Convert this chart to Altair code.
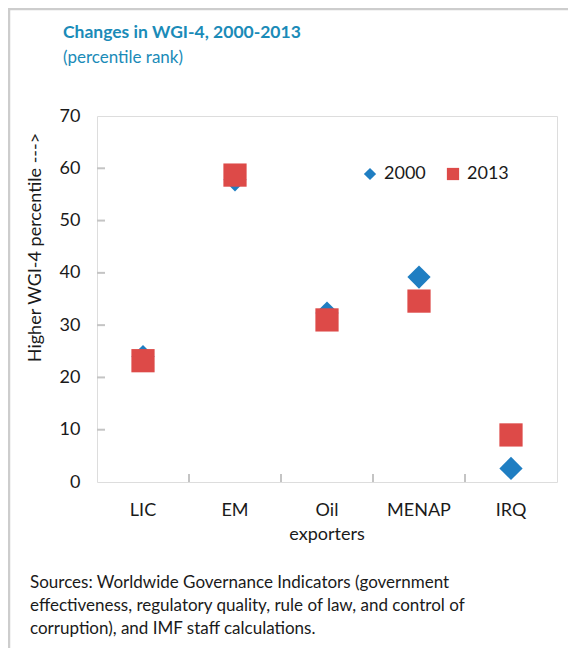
import altair as alt
import pandas as pd

categories = ["LIC", "EM", "Oil exporters", "MENAP", "IRQ"]
values_2000 = [24.0, 57.8, 32.3, 39.2, 2.6]
values_2013 = [23.2, 58.7, 31.0, 34.6, 9.0]
series_names = ["2000", "2013"]
y_ticks = [0, 10, 20, 30, 40, 50, 60, 70]
inner_y_ticks = [10, 20, 30, 40, 50, 60]
title_text = "Changes in WGI-4, 2000-2013"
subtitle_text = "(percentile rank)"
source_lines = [
    "Sources: Worldwide Governance Indicators (government",
    "effectiveness, regulatory quality, rule of law, and control of",
    "corruption), and IMF staff calculations.",
]

FONT = "Lato"
BLUE = "#1f7ec2"
RED = "#dd4a48"
TEAL = "#1a8bb8"
GRAY = "#c4c4c4"
TXT = "#1a1a1a"
FS = 18

rows = []
for c, v in zip(categories, values_2000):
    rows.append({"cat": c, "series": "2000", "value": v})
for c, v in zip(categories, values_2013):
    rows.append({"cat": c, "series": "2013", "value": v})
df = pd.DataFrame(rows)

xscale = alt.Scale(type="band", domain=categories, paddingInner=0, paddingOuter=0)
yscale = alt.Scale(domain=[0, 70], nice=False, zero=True)

points = alt.Chart(df).mark_point(filled=True, opacity=1, size=540).encode(
    x=alt.X("cat:N", scale=xscale, sort=categories,
            axis=alt.Axis(title=None, ticks=False, domain=False, labelPadding=19,
                          labelAngle=0, labelAlign="center", bandPosition=0.5,
                          labelFontSize=FS, labelFont=FONT,
                          labelColor=TXT, labelLineHeight=24, labelBaseline="top",
                          labelExpr="datum.label == 'Oil exporters' ? ['Oil', 'exporters'] : datum.label")),
    y=alt.Y("value:Q", scale=yscale,
            axis=alt.Axis(title="Higher WGI-4 percentile --->", values=y_ticks, ticks=False,
                          domain=False, grid=False, labelPadding=17, labelFontSize=FS,
                          labelFont=FONT, labelColor=TXT,
                          titleFont=FONT, titleFontSize=FS, titleFontWeight="normal",
                          titleColor=TXT, titleX=-62, titleY=131,
                          titleAlign="center", titleBaseline="middle", titleAngle=270)),
    color=alt.Color("series:N", scale=alt.Scale(domain=series_names, range=[BLUE, RED]),
                    legend=alt.Legend(title=None, orient="none", direction="horizontal",
                                      legendX=264, legendY=49, symbolSize=150,
                                      labelFontSize=FS, labelFont=FONT, labelColor=TXT,
                                      columnPadding=18, labelOffset=5, padding=0)),
    shape=alt.Shape("series:N", scale=alt.Scale(domain=series_names, range=["diamond", "square"])),
    order=alt.Order("series:N"),
)

ytick_df = pd.DataFrame({"value": inner_y_ticks})
yticks = alt.Chart(ytick_df).mark_rule(color=GRAY, strokeWidth=2).encode(
    y=alt.Y("value:Q", scale=yscale),
    x=alt.value(0),
    x2=alt.value(8),
)

xtick_df = pd.DataFrame({"cat": categories[1:]})
xticks = alt.Chart(xtick_df).mark_rule(color=GRAY, strokeWidth=2).encode(
    x=alt.X("cat:N", scale=xscale, sort=categories, bandPosition=0),
    y=alt.value(366),
    y2=alt.value(358),
)

frame = alt.Chart(alt.Data(values=[{"f": 1}])).mark_rect(
    fillOpacity=0, stroke="#cdcdcd", strokeWidth=2.5
).encode(
    x=alt.value(-88), y=alt.value(-107), x2=alt.value(700), y2=alt.value(800)
)

title = alt.Chart(alt.Data(values=[{"t": title_text}])).mark_text(
    align="left", baseline="alphabetic", fontSize=17.5, fontWeight="bold", font=FONT, color=TEAL
).encode(x=alt.value(-34), y=alt.value(-78), text="t:N")

subtitle = alt.Chart(alt.Data(values=[{"t": subtitle_text}])).mark_text(
    align="left", baseline="alphabetic", fontSize=17, font=FONT, color=TEAL
).encode(x=alt.value(-34), y=alt.value(-53), text="t:N")

sources = alt.Chart(alt.Data(values=[{"txt": source_lines}])).mark_text(
    align="left", baseline="middle", lineHeight=23, fontSize=17, font=FONT, color=TXT
).encode(
    x=alt.value(-67), y=alt.value(467), text="txt:N"
)

chart = alt.layer(frame, yticks, xticks, points, title, subtitle, sources).properties(
    width=460,
    height=366,
    autosize=alt.AutoSizeParams(type="none"),
    padding={"left": 89, "top": 108, "right": 11, "bottom": 166},
).configure_view(
    stroke=GRAY, strokeWidth=2.5
).configure(background="white")

chart.save("out.html", embed_options={"renderer": "svg", "actions": False})
